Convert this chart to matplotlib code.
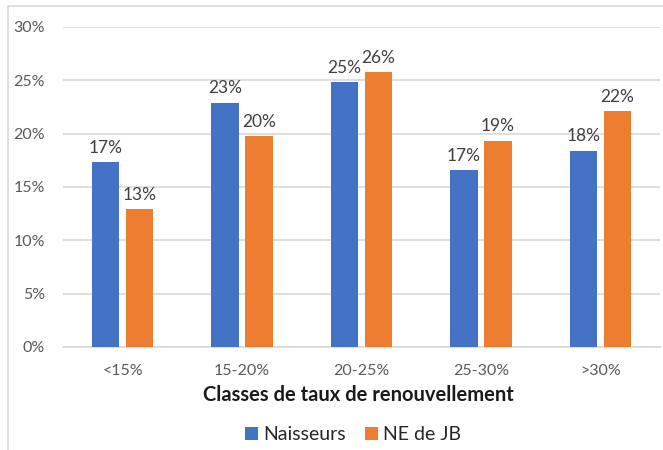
import matplotlib.pyplot as plt
from matplotlib.patches import Rectangle
from matplotlib.ticker import PercentFormatter
import numpy as np

plt.rcParams['font.family'] = ['Lato', 'DejaVu Sans']

# data
classes = ['<15%', '15-20%', '20-25%', '25-30%', '>30%']
naisseurs = [17.3, 22.9, 24.8, 16.6, 18.4]
ne_jb = [12.95, 19.8, 25.8, 19.35, 22.1]
series_names = ['Naisseurs', 'NE de JB']

BLUE = '#4472C4'
ORANGE = '#ED7D31'
GRID = '#d9d9d9'

fig = plt.figure(figsize=(6.63, 4.5), dpi=100)
ax = fig.add_axes([63 / 663, 103 / 450, 597 / 663, 320 / 450])

x = np.arange(len(classes))
w = 0.229
off = 0.142
b1 = ax.bar(x - off, naisseurs, w, color=BLUE, label=series_names[0], zorder=3)
b2 = ax.bar(x + off, ne_jb, w, color=ORANGE, label=series_names[1], zorder=3)

for bars in (b1, b2):
    for rect in bars:
        v = rect.get_height()
        ax.annotate(f'{v:.0f}%', (rect.get_x() + rect.get_width() / 2, v),
                    xytext=(0, 4.5), textcoords='offset points',
                    ha='center', va='bottom', fontsize=12.5, color='#404040')

ax.set_xlim(-0.5, len(classes) - 0.5)
ax.set_ylim(0, 30)
ax.set_yticks(range(0, 31, 5))
ax.yaxis.set_major_formatter(PercentFormatter(decimals=0))
ax.set_xticks(x)
ax.set_xticklabels(classes)
ax.tick_params(axis='both', length=0, labelsize=11.5, labelcolor='#595959')
ax.tick_params(axis='y', pad=13)
ax.tick_params(axis='x', pad=12)
ax.grid(axis='y', color=GRID, linewidth=1.2, zorder=0)
for s in ['top', 'right', 'left']:
    ax.spines[s].set_visible(False)
ax.spines['bottom'].set_color(GRID)
ax.spines['bottom'].set_linewidth(1.2)

fig.text(358 / 663, 1 - 395 / 450, 'Classes de taux de renouvellement',
         ha='center', va='center', fontsize=14.5, fontweight='bold', color='#1a1a1a')

fig.legend(handles=[b1, b2], loc='center', bbox_to_anchor=(353 / 663, 1 - 435 / 450),
           ncol=2, frameon=False, fontsize=14, handlelength=0.67, handleheight=0.67,
           handletextpad=0.25, columnspacing=1.0, labelcolor='#262626')

# chart-area border (cut at right and bottom)
fig.add_artist(Rectangle((8 / 663, -0.1), 1.0, 1.1 - 6 / 450, transform=fig.transFigure,
                         fill=False, edgecolor=GRID, linewidth=1.2))

fig.savefig('out.png', dpi=100)
